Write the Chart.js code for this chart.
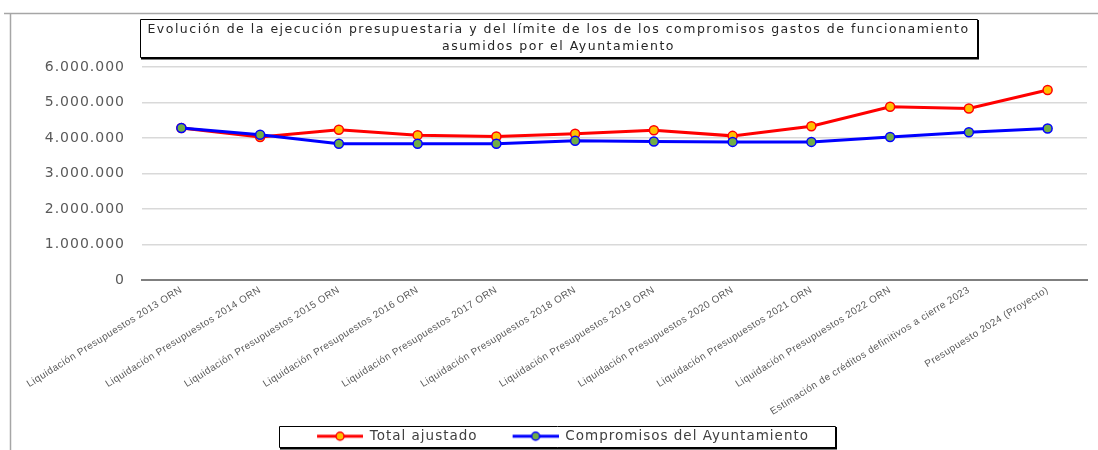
<!DOCTYPE html>
<html>
<head>
<meta charset="utf-8">
<script src="https://cdn.jsdelivr.net/npm/chart.js@4/dist/chart.umd.min.js"></script>
<style>
  html, body { margin: 0; padding: 0; background: #fff; }
  #wrap { position: relative; width: 1098px; height: 450px; }
</style>
</head>
<body>
<div id="wrap"><canvas id="chart" width="1098" height="450"></canvas></div>
<script>
// Chart data
const categories = [
    'Liquidación Presupuestos 2013 ORN',
    'Liquidación Presupuestos 2014 ORN',
    'Liquidación Presupuestos 2015 ORN',
    'Liquidación Presupuestos 2016 ORN',
    'Liquidación Presupuestos 2017 ORN',
    'Liquidación Presupuestos 2018 ORN',
    'Liquidación Presupuestos 2019 ORN',
    'Liquidación Presupuestos 2020 ORN',
    'Liquidación Presupuestos 2021 ORN',
    'Liquidación Presupuestos 2022 ORN',
    'Estimación de créditos definitivos a cierre 2023',
    'Presupuesto 2024 (Proyecto)'
];
const totalAjustado = [4280000, 4030000, 4230000, 4080000, 4040000, 4120000, 4220000, 4060000, 4330000, 4880000, 4830000, 5350000];
const compromisos = [4280000, 4090000, 3840000, 3840000, 3840000, 3920000, 3900000, 3890000, 3890000, 4030000, 4160000, 4270000];
const seriesNames = ['Total ajustado', 'Compromisos del Ayuntamiento'];
const titleLines = [
    'Evolución de la ejecución presupuestaria y del límite de los de los compromisos gastos de funcionamiento',
    'asumidos por el Ayuntamiento'
];
const yMin = 0;
const yMax = 6000000;
const yStep = 1000000;

const TITLE_FONT = '12.5px "DejaVu Sans"';
const TITLE_SPACING = '1.5px';
const LEGEND_FONT = '13.5px "DejaVu Sans"';
const LEGEND_SPACING = '1px';
const SYMBOL_LEAD = 25;     // blank space before each legend line symbol
const LEGEND_SHIFT = -29;   // legend sits a bit left of the centre
const PAD_BOTTOM = -3;
const PLOT_BOTTOM = 280;

// Format numbers with dot thousands separator
function formatNumber(value) {
    return String(Math.round(value)).replace(/\B(?=(\d{3})+(?!\d))/g, '.');
}

// Legend symbol: blank lead-in, then a line with a marker in the middle
function makeLegendSymbol(lineColor, fillColor) {
    const c = document.createElement('canvas');
    c.width = SYMBOL_LEAD + 46;
    c.height = 12;
    const g = c.getContext('2d');
    g.strokeStyle = lineColor;
    g.lineWidth = 3;
    g.beginPath();
    g.moveTo(SYMBOL_LEAD, 6);
    g.lineTo(SYMBOL_LEAD + 46, 6);
    g.stroke();
    g.beginPath();
    g.arc(SYMBOL_LEAD + 23, 6, 4, 0, Math.PI * 2);
    g.fillStyle = fillColor;
    g.fill();
    g.lineWidth = 1.5;
    g.stroke();
    return c;
}

const redSymbol = makeLegendSymbol('#ff0000', '#ffc000');
const blueSymbol = makeLegendSymbol('#0000ff', '#70ad47');

// Draw a layout box with some letter spacing
function withSpacing(box, spacing) {
    if (!box || box._spaced) return;
    const origDraw = box.draw;
    box.draw = function (...args) {
        const c = this.ctx;
        const prev = c.letterSpacing;
        c.letterSpacing = spacing;
        origDraw.apply(this, args);
        c.letterSpacing = prev;
    };
    box._spaced = true;
}

const spacingPlugin = {
    id: 'spacingPlugin',
    beforeLayout(chart) {
        withSpacing(chart.titleBlock, TITLE_SPACING);
        withSpacing(chart.legend, LEGEND_SPACING);
        withSpacing(chart.scales.x, '0.5px');
        withSpacing(chart.scales.y, '1px');
    },
    afterLayout(chart) {
        chart.legend.left += LEGEND_SHIFT;
        chart.legend.right += LEGEND_SHIFT;
    }
};

// Borders around the chart, title and legend
const framePlugin = {
    id: 'framePlugin',
    afterDraw(chart) {
        const ctx = chart.ctx;
        ctx.save();

        // outer chart border
        ctx.strokeStyle = '#a6a6a6';
        ctx.lineWidth = 1.5;
        ctx.beginPath();
        ctx.moveTo(4, 13.5);
        ctx.lineTo(1098, 13.5);
        ctx.moveTo(10.5, 13.5);
        ctx.lineTo(10.5, 450);
        ctx.stroke();

        // title box
        const tb = chart.titleBlock;
        ctx.font = TITLE_FONT;
        ctx.letterSpacing = TITLE_SPACING;
        const w = Math.max(...titleLines.map(t => ctx.measureText(t).width));
        const cx = (tb.left + tb.right) / 2;
        const bl = Math.round(cx - w / 2 - 7);
        const br = Math.round(cx + w / 2 + 7);
        ctx.strokeStyle = '#000';
        ctx.lineWidth = 1;
        ctx.beginPath();
        ctx.rect(bl + 0.5, tb.top + 0.5, br - bl, 38);
        ctx.stroke();
        ctx.lineWidth = 2;
        ctx.beginPath();
        ctx.moveTo(br + 1, tb.top + 1);
        ctx.lineTo(br + 1, tb.top + 39.5);
        ctx.lineTo(bl + 1, tb.top + 39.5);
        ctx.stroke();

        // legend box
        const hb = chart.legend.legendHitBoxes;
        if (hb && hb.length) {
            ctx.font = LEGEND_FONT;
            ctx.letterSpacing = LEGEND_SPACING;
            const last = hb[hb.length - 1];
            const textW = ctx.measureText(seriesNames[hb.length - 1]).width;
            const left = Math.round(hb[0].left + SYMBOL_LEAD - 38);
            const right = Math.round(last.left + SYMBOL_LEAD + 46 + 6.75 + textW + 40);
            const top = Math.round(hb[0].top + hb[0].height / 2 - 10);
            ctx.lineWidth = 1;
            ctx.beginPath();
            ctx.rect(left + 0.5, top + 0.5, right - left, 21);
            ctx.stroke();
            ctx.lineWidth = 2;
            ctx.beginPath();
            ctx.moveTo(right + 1, top + 1);
            ctx.lineTo(right + 1, top + 22.5);
            ctx.lineTo(left + 1, top + 22.5);
            ctx.stroke();
        }
        ctx.restore();
    }
};

const ctx = document.getElementById('chart').getContext('2d');
const chart = new Chart(ctx, {
    type: 'line',
    data: {
        labels: categories,
        datasets: [
            {
                label: seriesNames[0],
                data: totalAjustado,
                borderColor: '#ff0000',
                backgroundColor: '#ffc000',
                pointBackgroundColor: '#ffc000',
                pointBorderColor: '#ff0000',
                borderWidth: 3,
                pointRadius: 4.5,
                pointBorderWidth: 1.5,
                tension: 0,
                order: 1
            },
            {
                label: seriesNames[1],
                data: compromisos,
                borderColor: '#0000ff',
                backgroundColor: '#70ad47',
                pointBackgroundColor: '#70ad47',
                pointBorderColor: '#0000ff',
                borderWidth: 3,
                pointRadius: 4.5,
                pointBorderWidth: 1.5,
                tension: 0,
                order: 0
            }
        ]
    },
    options: {
        responsive: false,
        animation: false,
        layout: {
            padding: { top: 19, left: 30, right: 11, bottom: PAD_BOTTOM }
        },
        plugins: {
            tooltip: { enabled: false },
            title: {
                display: true,
                text: titleLines,
                color: '#262626',
                font: { family: '"DejaVu Sans"', size: 12.5, weight: 'normal', lineHeight: 17 / 12.5 },
                padding: { top: 2, bottom: 12 }
            },
            legend: {
                position: 'bottom',
                labels: {
                    usePointStyle: true,
                    pointStyleWidth: SYMBOL_LEAD + 46,
                    padding: 10,
                    color: '#404040',
                    font: { family: '"DejaVu Sans"', size: 13.5 },
                    generateLabels() {
                        return [
                            { text: seriesNames[0], pointStyle: redSymbol, fontColor: '#404040', datasetIndex: 0, lineWidth: 0, strokeStyle: 'transparent', fillStyle: 'transparent' },
                            { text: seriesNames[1], pointStyle: blueSymbol, fontColor: '#404040', datasetIndex: 1, lineWidth: 0, strokeStyle: 'transparent', fillStyle: 'transparent' }
                        ];
                    }
                }
            }
        },
        scales: {
            x: {
                offset: true,
                z: 1,
                grid: { display: false, drawOnChartArea: false, drawTicks: false, offset: false },
                border: { display: true, color: '#7f7f7f', width: 2 },
                ticks: {
                    autoSkip: false,
                    maxRotation: 32,
                    minRotation: 32,
                    padding: 4,
                    color: '#595959',
                    font: { family: '"Liberation Sans"', size: 10 }
                },
                afterFit(scale) {
                    // leave the plot bottom at a fixed height above the legend
                    scale.height = 450 - PAD_BOTTOM - scale.chart.legend.height - PLOT_BOTTOM;
                }
            },
            y: {
                min: yMin,
                max: yMax,
                grid: {
                    color: c => (c.tick && c.tick.value === 0 ? 'rgba(0,0,0,0)' : '#d9d9d9'),
                    lineWidth: 1.5,
                    drawTicks: false
                },
                border: { display: false },
                ticks: {
                    stepSize: yStep,
                    padding: 17,
                    color: '#595959',
                    font: { family: '"DejaVu Sans"', size: 14 },
                    callback: value => formatNumber(value)
                },
                afterFit(scale) {
                    scale.width = 112;
                }
            }
        }
    },
    plugins: [spacingPlugin, framePlugin]
});
</script>
</body>
</html>
